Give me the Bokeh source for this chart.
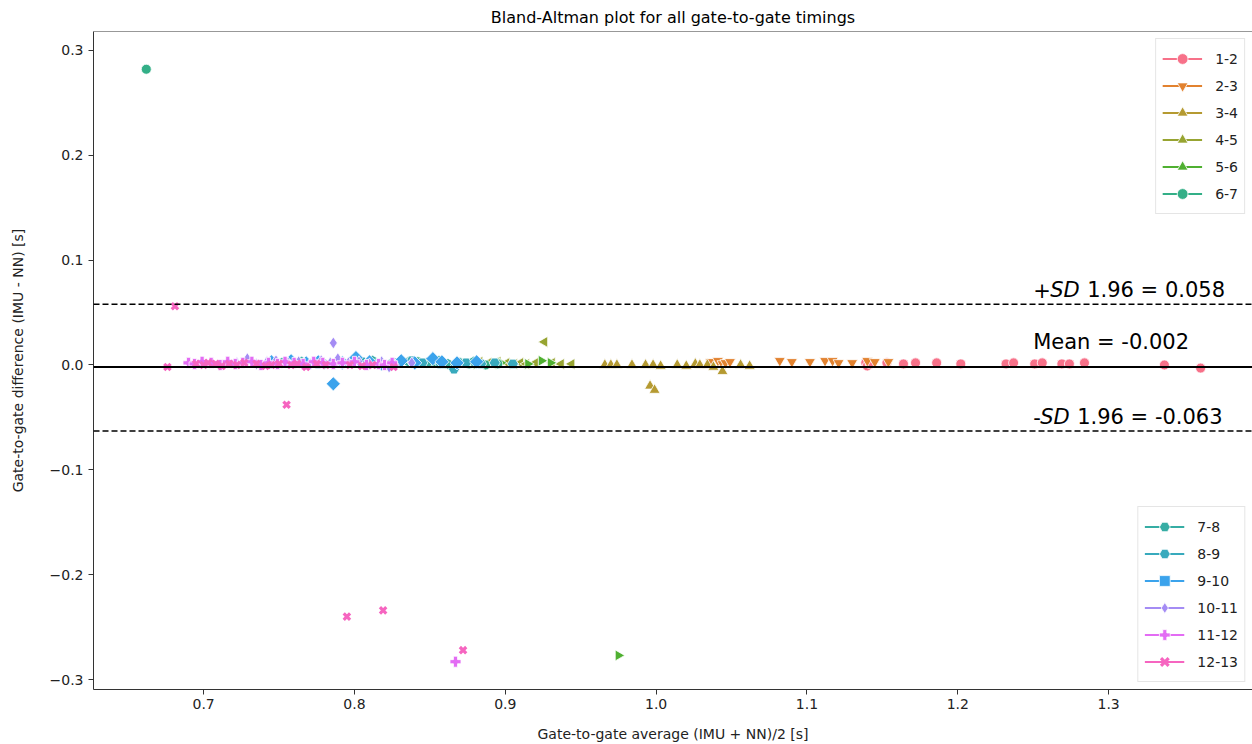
import math
from bokeh.plotting import figure
from bokeh.models import Range1d, Span, Label, Legend, LegendItem, FixedTicker, ColumnDataSource
from bokeh.embed import file_html
from bokeh.resources import INLINE

# ---------------- data ----------------
gates = ["1-2", "2-3", "3-4", "4-5", "5-6", "6-7", "7-8", "8-9", "9-10", "10-11", "11-12", "12-13"]

avg_1_2 = [1.139, 1.140, 1.142, 1.153, 1.164, 1.172, 1.186, 1.202, 1.232, 1.237, 1.251, 1.256, 1.269, 1.274, 1.284, 1.337, 1.361]
diff_1_2 = [0.002, -0.001, 0.001, 0.002, 0.001, 0.002, 0.002, 0.001, 0.001, 0.002, 0.001, 0.002, 0.001, 0.001, 0.002, 0.000, -0.003]

avg_2_3 = [1.036, 1.041, 1.044, 1.046, 1.049, 1.082, 1.090, 1.102, 1.112, 1.117, 1.121, 1.130, 1.140, 1.145, 1.154]
diff_2_3 = [0.003, 0.004, 0.001, 0.002, 0.003, 0.004, 0.003, 0.003, 0.004, 0.004, 0.002, 0.002, 0.004, 0.003, 0.003]

avg_3_4 = [0.966, 0.970, 0.974, 0.984, 0.993, 0.996, 0.998, 0.999, 1.003, 1.014, 1.020, 1.026, 1.029, 1.034, 1.038, 1.044, 1.056, 1.062]
diff_3_4 = [0.000, 0.000, 0.000, 0.000, 0.000, -0.020, 0.000, -0.024, -0.001, 0.000, -0.001, 0.001, 0.000, 0.000, -0.002, -0.006, 0.000, -0.001]

avg_4_5 = [0.876, 0.883, 0.889, 0.892, 0.895, 0.901, 0.906, 0.910, 0.914, 0.920, 0.926, 0.931, 0.937, 0.944]
diff_4_5 = [0.002, 0.003, 0.002, 0.001, 0.003, 0.002, 0.001, 0.002, 0.001, 0.002, 0.022, 0.002, 0.001, 0.001]

avg_5_6 = [0.881, 0.897, 0.905, 0.915, 0.924, 0.930, 0.975]
diff_5_6 = [0.001, 0.002, 0.001, 0.001, 0.004, 0.002, -0.277]

avg_6_7 = [0.662, 0.842, 0.853, 0.861, 0.870, 0.876, 0.881, 0.887, 0.895]
diff_6_7 = [0.282, 0.003, 0.002, 0.001, 0.002, 0.001, 0.002, 0.000, 0.001]

avg_7_8 = [0.752, 0.765, 0.780, 0.797, 0.812, 0.824, 0.836, 0.848, 0.856, 0.862, 0.870, 0.879]
diff_7_8 = [0.002, 0.003, 0.001, 0.002, 0.004, 0.001, 0.003, 0.002, 0.004, 0.001, 0.002, 0.003]

avg_8_9 = [0.776, 0.790, 0.805, 0.815, 0.828, 0.838, 0.845, 0.857, 0.866, 0.874, 0.884, 0.893, 0.905]
diff_8_9 = [0.001, 0.002, 0.003, 0.001, 0.002, 0.004, 0.002, 0.001, -0.004, 0.002, 0.001, 0.002, 0.001]

avg_9_10 = [0.745, 0.758, 0.768, 0.776, 0.786, 0.792, 0.801, 0.810, 0.818, 0.831, 0.840, 0.852, 0.858, 0.868, 0.881]
diff_9_10 = [0.003, 0.004, 0.002, 0.003, -0.018, 0.002, 0.007, 0.003, 0.001, 0.004, 0.002, 0.006, 0.003, 0.002, 0.003]

avg_10_11 = [0.716, 0.722, 0.729, 0.735, 0.742, 0.748, 0.756, 0.763, 0.771, 0.778, 0.784, 0.786, 0.789, 0.796, 0.803, 0.810, 0.818, 0.823, 0.827, 0.838]
diff_10_11 = [0.003, 0.002, 0.006, 0.001, 0.003, 0.004, 0.002, 0.003, 0.001, 0.004, 0.002, 0.021, 0.006, 0.002, 0.003, 0.001, 0.003, -0.002, 0.000, 0.002]

avg_11_12 = [0.690, 0.694, 0.699, 0.705, 0.711, 0.716, 0.721, 0.726, 0.732, 0.738, 0.743, 0.749, 0.754, 0.760, 0.766, 0.773, 0.779, 0.786, 0.792, 0.800, 0.808, 0.816, 0.820, 0.825, 0.867]
diff_11_12 = [0.002, 0.001, 0.003, 0.002, 0.000, 0.003, 0.001, 0.002, 0.003, 0.000, 0.002, 0.001, 0.003, 0.002, 0.001, 0.003, 0.002, 0.001, 0.002, 0.003, 0.000, 0.001, 0.000, 0.002, -0.283]

avg_12_13 = [0.676, 0.681, 0.695, 0.700, 0.703, 0.708, 0.712, 0.717, 0.722, 0.727, 0.735, 0.741, 0.745, 0.750, 0.755, 0.758, 0.762, 0.768, 0.775, 0.781, 0.795, 0.797, 0.805, 0.812, 0.819, 0.826, 0.872]
diff_12_13 = [-0.002, 0.056, 0.001, 0.000, 0.002, 0.001, -0.001, 0.001, 0.000, 0.002, 0.001, -0.001, 0.000, 0.001, -0.038, 0.000, 0.001, -0.002, 0.001, 0.000, -0.240, 0.000, -0.001, 0.000, -0.234, -0.002, -0.272]

mean_diff = -0.002
upper_loa = 0.058
lower_loa = -0.063

x_ticks = [0.7, 0.8, 0.9, 1.0, 1.1, 1.2, 1.3]
x_tick_labels = ["0.7", "0.8", "0.9", "1.0", "1.1", "1.2", "1.3"]
y_ticks = [-0.3, -0.2, -0.1, 0.0, 0.1, 0.2, 0.3]
y_tick_labels = ["\u22120.3", "\u22120.2", "\u22120.1", "0.0", "0.1", "0.2", "0.3"]

# ---------------- styles ----------------
FONT = "DejaVu Sans"
colors = ["#f77189", "#e2822f", "#b59a31", "#97a431", "#4fb031", "#33af87",
          "#36ada4", "#38aabd", "#3ba3ec", "#a48cf4", "#e36cf4", "#f665c0"]
# (marker, angle, size, line_width, filled)
markers = [("circle", 0.0, 10, 0.8, True), ("inverted_triangle", 0.0, 11, 0.8, True),
           ("triangle", 0.0, 11, 0.8, True), ("triangle", math.pi / 2, 11, 0.8, True),
           ("triangle", -math.pi / 2, 11, 0.8, True), ("circle", 0.0, 10, 0.8, True),
           ("hex", math.pi / 6, 11, 0.8, True), ("hex", 0.0, 11, 0.8, True),
           ("square", math.pi / 4, 10, 0.8, True), ("diamond", 0.0, 12, 0.8, True),
           ("plus", 0.0, 11, 0.8, True), ("x", 0.0, 9, 3.2, False)]

avgs = [avg_1_2, avg_2_3, avg_3_4, avg_4_5, avg_5_6, avg_6_7, avg_7_8, avg_8_9, avg_9_10, avg_10_11, avg_11_12, avg_12_13]
diffs = [diff_1_2, diff_2_3, diff_3_4, diff_4_5, diff_5_6, diff_6_7, diff_7_8, diff_8_9, diff_9_10, diff_10_11, diff_11_12, diff_12_13]

p = figure(width=1252, height=744, output_backend="svg", toolbar_location=None,
           x_range=Range1d(0.627, 1.3954), y_range=Range1d(-0.3095, 0.318),
           min_border_left=93, min_border_right=0, min_border_top=30, min_border_bottom=55)
p.outline_line_color = None
p.grid.visible = False
p.background_fill_color = "white"
p.border_fill_color = "white"

p.title.text = "Bland-Altman plot for all gate-to-gate timings"
p.title.align = "center"
p.title.text_font = FONT
p.title.text_font_size = "16px"
p.title.text_font_style = "normal"
p.title.text_color = "#000000"

for ax, ticks, labels in ((p.xaxis[0], x_ticks, x_tick_labels), (p.yaxis[0], y_ticks, y_tick_labels)):
    ax.ticker = FixedTicker(ticks=ticks)
    ax.major_label_overrides = {t: l for t, l in zip(ticks, labels)}
    ax.minor_tick_line_color = None
    ax.major_tick_in = 0
    ax.major_tick_out = 5
    ax.axis_line_color = "#333333"
    ax.major_tick_line_color = "#333333"
    ax.major_label_text_font = FONT
    ax.major_label_text_font_size = "14px"
    ax.major_label_text_color = "#222222"
    ax.axis_label_text_font = FONT
    ax.axis_label_text_font_size = "14px"
    ax.axis_label_text_font_style = "normal"
    ax.axis_label_text_color = "#222222"

p.xaxis[0].axis_label = "Gate-to-gate average (IMU + NN)/2 [s]"
p.xaxis[0].major_label_standoff = 4
p.xaxis[0].axis_label_standoff = 14
p.yaxis[0].axis_label = "Gate-to-gate difference (IMU - NN) [s]"
p.yaxis[0].major_label_standoff = 5
p.yaxis[0].axis_label_standoff = 21

# top spine
p.add_layout(Span(location=0.318, dimension="width", line_color="#333333", line_width=1))

# reference lines
p.add_layout(Span(location=mean_diff, dimension="width", line_color="black", line_width=2))
p.add_layout(Span(location=upper_loa, dimension="width", line_color="black", line_width=1.5, line_dash="6 3"))
p.add_layout(Span(location=lower_loa, dimension="width", line_color="black", line_width=1.5, line_dash="6 3"))

items = []
for g, xs, ys, c, (mk, ang, sz, lw, filled) in zip(gates, avgs, diffs, colors, markers):
    src = ColumnDataSource(dict(x=xs, y=ys))
    if filled:
        r = p.scatter("x", "y", source=src, marker=mk, angle=ang, size=sz,
                      fill_color=c, line_color="white", line_width=lw)
    else:
        r = p.scatter("x", "y", source=src, marker=mk, angle=ang, size=sz,
                      line_color=c, line_width=lw)
    lr = p.line(x=[float("nan")], y=[float("nan")], line_color=c, line_width=2)
    items.append(LegendItem(label=g, renderers=[lr, r]))

def mk_legend(its, loc):
    lg = Legend(items=its, location=loc, margin=7, padding=6, spacing=0,
                glyph_width=40, glyph_height=27, label_standoff=13,
                label_text_font=FONT, label_text_font_size="14px", label_text_color="#222222",
                border_line_color="#cccccc", border_line_width=1,
                background_fill_color="white", background_fill_alpha=0.8)
    return lg

p.add_layout(mk_legend(items[:6], "top_right"))
p.add_layout(mk_legend(items[6:], "bottom_right"))

# annotations
TX = 1.25
fs = "21px"
YOFF = 8
def lab(x, y, t, off=0, style="normal"):
    p.add_layout(Label(x=x, y=y, text=t, x_offset=off, y_offset=YOFF, text_font=FONT, text_font_size=fs,
                       text_font_style=style, text_color="black", text_baseline="alphabetic"))

lab(TX, upper_loa + 0.006, "+")
lab(TX, upper_loa + 0.006, "SD", 17, "italic")
lab(TX, upper_loa + 0.006, "1.96 = %.3f" % upper_loa, 54)
lab(TX, mean_diff + 0.016, "Mean = %.3f" % mean_diff)
lab(TX, lower_loa + 0.006, "-")
lab(TX, lower_loa + 0.006, "SD", 7, "italic")
lab(TX, lower_loa + 0.006, "1.96 = %.3f" % lower_loa, 44)

open("out.html", "w").write(file_html(p, INLINE))
